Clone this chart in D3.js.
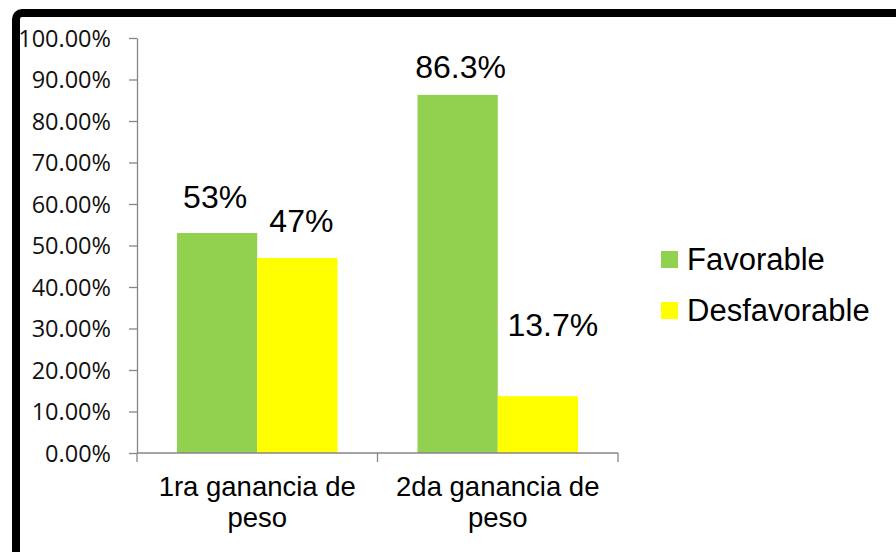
<html lang="es">
<head>
    <meta charset="utf-8">
    <title>Ganancia de peso</title>
    <script type="text/javascript" src="https://cdn.jsdelivr.net/npm/d3@7"></script>
    <style>
        body { margin: 0; background: white; }
        .axis path, .axis line {
            fill: none;
            stroke: #868686;
            stroke-width: 1.3px;
        }
        .yaxis text {
            font-family: "Open Sans", sans-serif;
            font-size: 23.5px;
            fill: #111;
        }
        .cat, .lbl, .leg {
            font-family: "Liberation Sans", Arial, sans-serif;
            fill: black;
        }
    </style>
</head>
<body>
<script type="text/javascript">
    // data
    var categories = [["1ra ganancia de", "peso"], ["2da ganancia de", "peso"]];
    var seriesNames = ["Favorable", "Desfavorable"];
    var favorable = [0.53, 0.863];
    var desfavorable = [0.47, 0.137];
    var valueLabels = [["53%", "47%"], ["86.3%", "13.7%"]];
    var yTicks = [0, 0.1, 0.2, 0.3, 0.4, 0.5, 0.6, 0.7, 0.8, 0.9, 1.0];

    var colors = ["#92D050", "#FFFF00"];
    // manual label placement (px) relative to bar top / bar centre
    var labelDy = [[-25, -26], [-17, -60]];
    var labelDx = [[-2, 4], [3, 15]];

    var w = 896, h = 552;
    var svg = d3.select("body").append("svg")
        .attr("width", w)
        .attr("height", h);

    // frame
    svg.append("rect")
        .attr("x", 16).attr("y", 13)
        .attr("width", w + 20).attr("height", h + 20)
        .attr("rx", 6)
        .attr("fill", "white")
        .attr("stroke", "black")
        .attr("stroke-width", 8);

    var plot = {left: 137, right: 618, top: 38, bottom: 453};

    var xScale = d3.scaleBand()
        .domain(d3.range(categories.length))
        .range([plot.left, plot.right]);

    var inner = d3.scaleBand()
        .domain(d3.range(seriesNames.length))
        .range([40, xScale.bandwidth() - 40]);

    var yScale = d3.scaleLinear()
        .domain([0, 1])
        .range([plot.bottom, plot.top]);

    var yAxis = d3.axisLeft(yScale)
        .tickValues(yTicks)
        .tickSize(8)
        .tickSizeOuter(0)
        .tickPadding(18)
        .tickFormat(function(d) { return (d * 100).toFixed(2) + "%"; });

    var yAxisObj = svg.append("g")
        .attr("class", "axis yaxis")
        .attr("transform", "translate(" + plot.left + ",0)")
        .call(yAxis);
    yAxisObj.selectAll("text").attr("dy", "0.36em");

    var rows = categories.map(function(c, i) {
        return [favorable[i], desfavorable[i]];
    });

    var groups = svg.selectAll("g.grp")
        .data(rows)
        .enter()
        .append("g")
        .attr("class", "grp")
        .attr("transform", function(d, i) { return "translate(" + xScale(i) + ",0)"; });

    groups.selectAll("rect")
        .data(function(d) { return d; })
        .enter()
        .append("rect")
        .attr("x", function(d, j) { return inner(j); })
        .attr("width", inner.bandwidth())
        .attr("y", function(d) { return yScale(d); })
        .attr("height", function(d) { return yScale(0) - yScale(d); })
        .attr("fill", function(d, j) { return colors[j]; });

    groups.each(function(row, i) {
        d3.select(this).selectAll("text.lbl")
            .data(row)
            .enter()
            .append("text")
            .attr("class", "lbl")
            .attr("text-anchor", "middle")
            .attr("font-size", "32px")
            .attr("x", function(d, j) { return inner(j) + inner.bandwidth() / 2 + labelDx[i][j]; })
            .attr("y", function(d, j) { return yScale(d) + labelDy[i][j]; })
            .text(function(d, j) { return valueLabels[i][j]; });
    });

    // x axis
    var xAxisG = svg.append("g").attr("class", "axis");
    xAxisG.append("line")
        .attr("x1", plot.left).attr("x2", plot.right)
        .attr("y1", plot.bottom).attr("y2", plot.bottom);
    var xTickPos = d3.range(categories.length + 1).map(function(i) {
        return i < categories.length ? xScale(i) : plot.right;
    });
    xAxisG.selectAll("line.tk")
        .data(xTickPos)
        .enter()
        .append("line")
        .attr("class", "tk")
        .attr("x1", function(d) { return d; }).attr("x2", function(d) { return d; })
        .attr("y1", plot.bottom).attr("y2", plot.bottom + 9);

    svg.selectAll("text.cat")
        .data(categories)
        .enter()
        .append("text")
        .attr("class", "cat")
        .attr("text-anchor", "middle")
        .attr("font-size", "27.5px")
        .attr("y", 496)
        .each(function(d, i) {
            var t = d3.select(this);
            d.forEach(function(line, k) {
                t.append("tspan")
                    .attr("x", xScale(i) + xScale.bandwidth() / 2)
                    .attr("dy", k === 0 ? 0 : 31)
                    .text(line);
            });
        });

    // legend
    var legend = svg.selectAll("g.leg")
        .data(seriesNames)
        .enter()
        .append("g")
        .attr("transform", function(d, i) { return "translate(661," + (251 + i * 51) + ")"; });
    legend.append("rect")
        .attr("width", 17).attr("height", 17)
        .attr("fill", function(d, i) { return colors[i]; });
    legend.append("text")
        .attr("class", "leg")
        .attr("x", 26)
        .attr("y", 19)
        .attr("font-size", "31px")
        .text(function(d) { return d; });
</script>
</body>
</html>
